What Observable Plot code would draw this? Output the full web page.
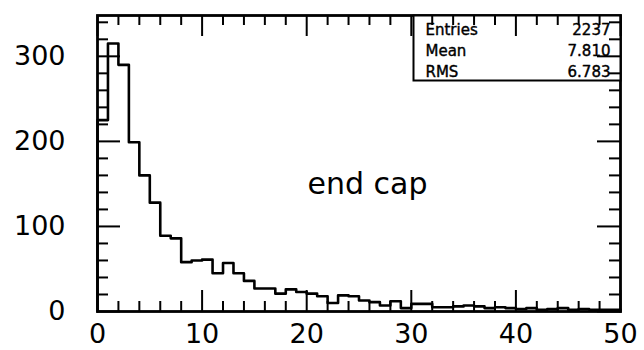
<!DOCTYPE html>
<html>
<head>
<meta charset="utf-8">
<script src="https://cdn.jsdelivr.net/npm/d3@7"></script>
<script src="https://cdn.jsdelivr.net/npm/@observablehq/plot@0.6"></script>
<style>
  body { margin: 0; background: #fff; }
  #chart svg { display: block; }
</style>
</head>
<body>
<div id="chart"></div>
<script>
// Histogram contents, one bin per unit from 0 to 50
const binCounts = [
  225, 315, 290, 199, 160, 128, 89, 86, 58, 60,
  61, 45, 57, 45, 36, 27, 27, 21, 26, 23,
  21, 18, 10, 19, 18, 13, 11, 7, 12, 4,
  9, 9, 5, 5, 6, 7, 6, 4, 5, 4,
  3, 4, 2, 3, 4, 2, 3, 2, 2, 2
];
const xLabels = [0, 10, 20, 30, 40, 50];
const yLabels = [0, 100, 200, 300];
const statNames = ["Entries", "Mean", "RMS"];
const statValues = ["2237", "7.810", "6.783"];
const panelTitle = "end cap";

const W = 644, H = 350;
const mL = 97, mR = 24, mT = 15, mB = 39;
const innerW = W - mL - mR, innerH = H - mT - mB;

// Step outline of the histogram: starts and ends on the baseline
const steps = [{x: 0, y: 0}];
binCounts.forEach((c, i) => steps.push({x: i, y: c}));
steps.push({x: binCounts.length, y: binCounts[binCounts.length - 1]});
steps.push({x: binCounts.length, y: 0});

const xMajor = d3.range(0, 51, 10);
const xMinor = d3.range(0, 51, 2).filter(v => v % 10 !== 0);
const yMajor = d3.range(0, 341, 100);
const yMinor = d3.range(0, 341, 20).filter(v => v % 100 !== 0);

const font = "DejaVu Sans, sans-serif";
const tickW = 2;

// Stats box in the upper right corner of the frame
const boxW = 207, boxH = 65;

const chart = Plot.plot({
  width: W, height: H,
  marginLeft: mL, marginRight: mR, marginTop: mT, marginBottom: mB,
  style: {fontFamily: font, color: "#000", background: "#fff"},
  x: {domain: [0, 50]},
  y: {domain: [0, 348]},
  marks: [
    Plot.line(steps, {x: "x", y: "y", curve: "step-after", stroke: "#000", strokeWidth: 2.6}),
    // bottom and top ticks
    Plot.ruleX(xMinor, {insetTop: innerH - 10, stroke: "#000", strokeWidth: tickW}),
    Plot.ruleX(xMajor, {insetTop: innerH - 21, stroke: "#000", strokeWidth: tickW}),
    Plot.ruleX(xMinor, {insetBottom: innerH - 10, stroke: "#000", strokeWidth: tickW}),
    Plot.ruleX(xMajor, {insetBottom: innerH - 21, stroke: "#000", strokeWidth: tickW}),
    // left and right ticks
    Plot.ruleY(yMinor, {insetRight: innerW - 11, stroke: "#000", strokeWidth: tickW}),
    Plot.ruleY(yMajor, {insetRight: innerW - 23, stroke: "#000", strokeWidth: tickW}),
    Plot.ruleY(yMinor, {insetLeft: innerW - 11, stroke: "#000", strokeWidth: tickW}),
    Plot.ruleY(yMajor, {insetLeft: innerW - 23, stroke: "#000", strokeWidth: tickW}),
    Plot.axisX(xLabels, {tickSize: 0, tickPadding: 12, fontSize: 27, label: null}),
    Plot.axisY(yLabels, {tickSize: 0, tickPadding: 32, fontSize: 27, label: null}),
    Plot.frame({stroke: "#000", strokeWidth: 2.8}),
    // stats box
    Plot.frame({insetLeft: innerW - boxW, insetBottom: innerH - boxH, stroke: "#000", strokeWidth: 2, fill: "#fff"}),
    Plot.text([statNames.join("\n")], {
      frameAnchor: "top-left", dx: innerW - boxW + 12, dy: 5,
      textAnchor: "start", lineAnchor: "top", lineHeight: 1.38,
      fontSize: 15, fill: "#000", stroke: "#000", strokeWidth: 0.4
    }),
    Plot.text([statValues.join("\n")], {
      frameAnchor: "top-right", dx: -10, dy: 5,
      textAnchor: "end", lineAnchor: "top", lineHeight: 1.38,
      fontSize: 15, fill: "#000", stroke: "#000", strokeWidth: 0.4
    }),
    // right-hand and top ticks drawn over the stats box
    Plot.ruleY(yMinor.filter(v => v > 270), {insetLeft: innerW - 11, stroke: "#000", strokeWidth: tickW}),
    Plot.ruleY(yMajor.filter(v => v > 270), {insetLeft: innerW - 23, stroke: "#000", strokeWidth: tickW}),
    Plot.ruleX(xMinor.filter(v => v > 30), {insetBottom: innerH - 10, stroke: "#000", strokeWidth: tickW}),
    Plot.ruleX(xMajor.filter(v => v > 30), {insetBottom: innerH - 21, stroke: "#000", strokeWidth: tickW}),
    Plot.text([panelTitle], {
      frameAnchor: "top-left", dx: 270, dy: 157,
      textAnchor: "middle", fontSize: 30, fill: "#000"
    })
  ]
});

document.getElementById("chart").appendChild(chart);
</script>
</body>
</html>
